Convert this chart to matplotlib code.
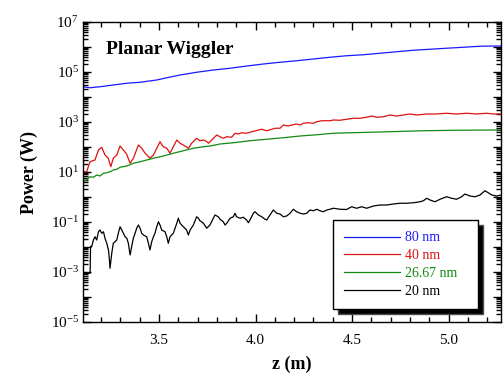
import numpy as np
import matplotlib
matplotlib.use("Agg")
import matplotlib.pyplot as plt
from matplotlib.ticker import FixedLocator, MultipleLocator, LogLocator, NullFormatter

plt.rcParams['font.family'] = ['Liberation Serif', 'DejaVu Serif']
plt.rcParams['mathtext.fontset'] = 'custom'
plt.rcParams['mathtext.rm'] = 'Liberation Serif'
plt.rcParams['mathtext.it'] = 'Liberation Serif:italic'
plt.rcParams['mathtext.bf'] = 'Liberation Serif:bold'

# ---- data: z in metres, log10 of power in watts ----
z_80 = [3.105, 3.142, 3.194, 3.263, 3.333, 3.402, 3.488, 3.540, 3.609, 3.695,
        3.782, 3.868, 3.954, 4.041, 4.127, 4.213, 4.300, 4.386, 4.472, 4.559,
        4.645, 4.731, 4.818, 4.904, 4.990, 5.077, 5.163, 5.250, 5.272]
lp_80 = [4.41, 4.37, 4.41, 4.48, 4.55, 4.59, 4.68, 4.77, 4.88, 4.99,
         5.08, 5.15, 5.24, 5.32, 5.39, 5.45, 5.52, 5.59, 5.65, 5.69,
         5.75, 5.81, 5.87, 5.91, 5.95, 5.99, 6.03, 6.04, 6.04]

z_40 = [3.105, 3.125, 3.142, 3.168, 3.186, 3.203, 3.220, 3.237, 3.250, 3.263,
        3.281, 3.298, 3.315, 3.332, 3.350, 3.367, 3.393, 3.410, 3.428, 3.453,
        3.471, 3.505, 3.522, 3.540, 3.557, 3.574, 3.592, 3.609, 3.626, 3.652,
        3.669, 3.695, 3.712, 3.730, 3.747, 3.756, 3.773, 3.799, 3.816, 3.833,
        3.851, 3.876, 3.894, 3.911, 3.928, 3.954, 3.980, 3.997, 4.015, 4.032,
        4.058, 4.084, 4.101, 4.127, 4.144, 4.170, 4.187, 4.213, 4.231, 4.248,
        4.274, 4.300, 4.317, 4.343, 4.386, 4.403, 4.438, 4.472, 4.507, 4.541,
        4.576, 4.602, 4.628, 4.662, 4.697, 4.731, 4.766, 4.800, 4.835, 4.887,
        4.939, 4.990, 5.042, 5.094, 5.146, 5.198, 5.232, 5.272]
lp_40 = [1.01, 1.01, 1.41, 1.48, 1.88, 1.99, 1.68, 1.55, 1.21, 1.55,
         1.68, 2.04, 1.88, 1.72, 1.35, 1.55, 2.08, 1.95, 1.75, 1.55,
         1.68, 2.21, 2.01, 1.95, 1.75, 2.01, 2.28, 2.15, 2.08, 1.95,
         2.15, 2.35, 2.25, 2.28, 2.22, 2.15, 2.28, 2.48, 2.41, 2.35,
         2.41, 2.39, 2.55, 2.52, 2.57, 2.55, 2.61, 2.64, 2.68, 2.71,
         2.65, 2.71, 2.75, 2.75, 2.88, 2.84, 2.88, 2.92, 2.88, 2.95,
         2.97, 2.95, 3.01, 3.05, 3.05, 3.08, 3.07, 3.11, 3.15, 3.15,
         3.19, 3.24, 3.19, 3.21, 3.28, 3.24, 3.28, 3.32, 3.28, 3.32,
         3.32, 3.35, 3.32, 3.35, 3.32, 3.35, 3.32, 3.32]

z_2667 = [3.105, 3.125, 3.142, 3.160, 3.177, 3.194, 3.212, 3.229, 3.246, 3.263,
          3.281, 3.298, 3.333, 3.367, 3.402, 3.436, 3.471, 3.522, 3.574, 3.626,
          3.678, 3.730, 3.764, 3.816, 3.885, 3.971, 4.058, 4.144, 4.231, 4.317,
          4.403, 4.490, 4.645, 4.870, 5.042, 5.272]
lp_2667 = [0.61, 0.68, 0.81, 0.79, 0.88, 0.84, 0.95, 0.97, 1.01, 1.08,
           1.11, 1.19, 1.24, 1.35, 1.41, 1.48, 1.55, 1.64, 1.75, 1.85,
           1.95, 2.01, 2.04, 2.12, 2.17, 2.25, 2.31, 2.37, 2.44, 2.49,
           2.55, 2.57, 2.60, 2.65, 2.67, 2.68]

z_20 = [3.106, 3.143, 3.145, 3.151, 3.160, 3.168, 3.177, 3.186, 3.194, 3.203,
        3.212, 3.220, 3.229, 3.238, 3.243, 3.246, 3.255, 3.263, 3.272, 3.281,
        3.289, 3.298, 3.307, 3.315, 3.324, 3.333, 3.341, 3.350, 3.358, 3.367,
        3.376, 3.384, 3.393, 3.402, 3.410, 3.419, 3.436, 3.445, 3.453, 3.462,
        3.471, 3.479, 3.488, 3.497, 3.505, 3.514, 3.531, 3.540, 3.548, 3.557,
        3.574, 3.592, 3.600, 3.609, 3.626, 3.643, 3.652, 3.661, 3.678, 3.695,
        3.704, 3.712, 3.730, 3.747, 3.764, 3.781, 3.790, 3.807, 3.816, 3.833,
        3.842, 3.851, 3.868, 3.885, 3.894, 3.902, 3.920, 3.937, 3.954, 3.963,
        3.971, 3.989, 3.997, 4.015, 4.032, 4.049, 4.058, 4.075, 4.092, 4.110,
        4.127, 4.144, 4.161, 4.179, 4.196, 4.213, 4.231, 4.248, 4.265, 4.282,
        4.300, 4.317, 4.334, 4.351, 4.369, 4.386, 4.403, 4.438, 4.472, 4.498,
        4.524, 4.550, 4.576, 4.611, 4.645, 4.680, 4.714, 4.749, 4.783, 4.818,
        4.852, 4.870, 4.887, 4.904, 4.930, 4.956, 4.990, 5.016, 5.042, 5.068,
        5.085, 5.111, 5.137, 5.163, 5.189, 5.206, 5.224, 5.249, 5.272]
lp_20 = [-3.05, -3.05, -1.97, -1.99, -1.72, -1.59, -1.72, -1.39, -1.32, -1.45,
         -1.39, -1.65, -1.85, -2.12, -2.52, -2.85, -2.25, -1.85, -1.79, -1.72,
         -1.45, -1.19, -1.32, -1.45, -1.59, -1.65, -1.85, -2.32, -1.99, -1.65,
         -1.45, -1.25, -1.12, -1.25, -1.45, -1.52, -1.59, -1.85, -2.12, -1.79,
         -1.59, -1.45, -1.19, -0.99, -1.12, -1.32, -1.39, -1.59, -1.85, -1.59,
         -1.45, -1.05, -0.85, -1.05, -1.19, -1.32, -1.52, -1.32, -1.12, -0.79,
         -0.85, -0.95, -1.05, -1.25, -1.12, -0.85, -0.72, -0.79, -0.89, -0.99,
         -1.12, -1.05, -0.85, -0.79, -0.65, -0.79, -0.85, -0.81, -0.92, -1.03,
         -0.92, -0.65, -0.59, -0.72, -0.79, -0.89, -0.92, -0.72, -0.52, -0.65,
         -0.68, -0.79, -0.76, -0.65, -0.49, -0.59, -0.65, -0.68, -0.65, -0.52,
         -0.55, -0.49, -0.55, -0.59, -0.52, -0.49, -0.45, -0.49, -0.50, -0.39,
         -0.45, -0.39, -0.45, -0.36, -0.32, -0.32, -0.28, -0.25, -0.25, -0.23,
         -0.19, -0.15, -0.05, -0.12, -0.19, -0.09, 0.01, -0.05, -0.09, 0.01,
         0.12, 0.04, 0.01, 0.08, 0.25, 0.17, 0.08, 0.04, 0.08]

series = [
    (z_80, lp_80, '#1a1aff', '80 nm'),
    (z_40, lp_40, '#dd1111', '40 nm'),
    (z_2667, lp_2667, '#108a10', '26.67 nm'),
    (z_20, lp_20, '#000000', '20 nm'),
]

fig = plt.figure(figsize=(5.04, 3.78), dpi=100)
ax = fig.add_axes([83 / 504, 1 - 322 / 378, 418 / 504, 300 / 378])

for z, lp, col, lab in series:
    ax.plot(z, 10.0 ** np.asarray(lp), color=col, lw=0.9, label=lab)

ax.set_yscale('log')
ax.set_xlim(3.106, 5.272)
ax.set_ylim(1e-5, 1e7)

# y ticks: every decade, label every other one
decades = list(range(-5, 8))
ax.yaxis.set_major_locator(FixedLocator([10.0 ** e for e in decades]))
ax.set_yticklabels([r'$10^{%d}$' % e if (e % 2) else '' for e in decades])
ax.yaxis.set_minor_locator(LogLocator(base=10, subs=np.arange(2, 10), numticks=50))
ax.yaxis.set_minor_formatter(NullFormatter())

ax.xaxis.set_major_locator(MultipleLocator(0.5))
ax.xaxis.set_minor_locator(MultipleLocator(0.1))
ax.xaxis.set_major_formatter(matplotlib.ticker.FormatStrFormatter('%.1f'))

ax.tick_params(which='both', direction='in', top=True, right=True, width=1.0)
ax.tick_params(which='major', length=6)
ax.tick_params(which='minor', length=3.5)
ax.tick_params(axis='x', which='major', labelsize=11, pad=9)
ax.tick_params(axis='y', which='major', labelsize=11, pad=3)
for s in ax.spines.values():
    s.set_linewidth(1.0)

ax.set_xlabel('z (m)', fontsize=13, fontweight='bold', labelpad=6)
ax.set_ylabel('Power (W)', fontsize=13, fontweight='bold', labelpad=9)

ax.text(0.055, 0.91, 'Planar Wiggler', transform=ax.transAxes,
        fontsize=14, fontweight='bold', va='center', ha='left')

leg = ax.legend(loc='lower left', bbox_to_anchor=(0.598, 0.043, 0.347, 0.29),
                mode='expand', borderaxespad=0, fontsize=10,
                handlelength=4.0, handletextpad=0.4, labelspacing=0.35,
                borderpad=0.8, fancybox=False, labelcolor='linecolor',
                shadow={'ox': 3.5, 'oy': -3.5, 'facecolor': 'black', 'alpha': 1.0})
leg.get_frame().set_edgecolor('black')
leg.get_frame().set_linewidth(1.0)

fig.savefig('out.png', dpi=100)
